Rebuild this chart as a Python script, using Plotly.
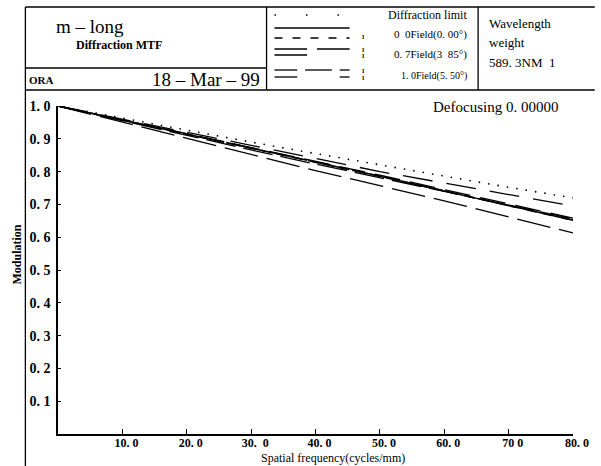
import plotly.graph_objects as go

# ---------------- data ----------------
freq = [0, 10, 20, 30, 40, 50, 60, 70, 80]
diffraction_limit = [1.0, 0.963, 0.926, 0.890, 0.855, 0.820, 0.785, 0.752, 0.720]
field00_T = [1.0, 0.957, 0.914, 0.872, 0.830, 0.786, 0.741, 0.697, 0.652]
field00_S = [1.0, 0.957, 0.914, 0.872, 0.830, 0.786, 0.741, 0.697, 0.652]
field07_T = [1.0, 0.955, 0.911, 0.866, 0.823, 0.781, 0.738, 0.697, 0.656]
field07_S = [1.0, 0.960, 0.920, 0.880, 0.840, 0.800, 0.765, 0.730, 0.695]
field10_T = [1.0, 0.951, 0.902, 0.853, 0.803, 0.757, 0.711, 0.662, 0.613]
field10_S = [1.0, 0.958, 0.916, 0.874, 0.832, 0.789, 0.745, 0.701, 0.658]

x_tickvals = [10, 20, 30, 40, 50, 60, 70, 80]
x_ticktext = ["10. 0", "20. 0", "30.  0", "40. 0", "50. 0", "60. 0", "70 0", "80. 0"]
y_tickvals = [0.1, 0.2, 0.3, 0.4, 0.5, 0.6, 0.7, 0.8, 0.9, 1.0]
y_ticktext = ["0. 1", "0. 2", "0. 3", "0. 4", "0. 5", "0. 6", "0. 7", "0. 8", "0. 9", "1. 0"]

# ---------------- layout geometry (pixels) ----------------
W, H = 601, 466
L, R, T, B = 58, 579, 106, 434
SERIF = "Liberation Serif, Times New Roman, serif"


def px(x):
    return (x - L) / (R - L)


def py(y):
    return (B - y) / (B - T)


fig = go.Figure()

series = [
    ("Diffraction limit", diffraction_limit, "1.5px,8px", 1.6),
    ("0.0 Field T", field00_T, "40px,3px", 1.6),
    ("0.0 Field S", field00_S, "10px,6px", 1.6),
    ("0.7 Field T", field07_T, "30px,8px", 1.3),
    ("0.7 Field S", field07_S, "30px,14px", 1.3),
    ("1.0 Field T", field10_T, "34px,9px", 1.3),
    ("1.0 Field S", field10_S, "26px,10px", 1.3),
]
for name, vals, dash, w in series:
    fig.add_trace(go.Scatter(
        x=freq, y=vals, mode="lines", name=name, cliponaxis=False,
        line=dict(color="black", width=w, dash=dash), showlegend=False,
    ))

shapes = []


def line(x0, y0, x1, y1, dash="solid", width=1.3):
    shapes.append(dict(type="line", xref="paper", yref="paper",
                       x0=px(x0), y0=py(y0), x1=px(x1), y1=py(y1),
                       line=dict(color="black", width=width, dash=dash)))


# frame / header box
line(25, 7, 601, 7)
line(25, 90, 601, 90)
line(25, 7, 25, 466)
line(269, 7, 269, 90)
line(483, 7, 483, 90)
line(25, 68, 269, 68)

# legend samples
line(277, 15, 353, 15, dash="1.5px,30px")
line(277, 28, 353, 28)
line(277, 38, 353, 38, dash="8px,10px")
line(277, 49, 310, 49)
line(320, 49, 353, 49)
line(277, 55, 310, 55)
line(277, 70, 300, 70)
line(308, 70, 335, 70)
line(343, 70, 353, 70)
line(277, 77, 300, 77)
line(343, 77, 353, 77)

annotations = []


def ann(text, x, y, size, xanchor="left", bold=False, angle=0):
    annotations.append(dict(
        text=text, xref="paper", yref="paper", x=px(x), y=py(y),
        xanchor=xanchor, yanchor="middle", showarrow=False, textangle=angle,
        font=dict(family=SERIF, size=size, color="black",
                  weight="bold" if bold else "normal")))


ann("m – long", 54, 27, 19)
ann("Diffraction MTF", 74, 45, 12, bold=True)
ann("ORA", 27, 80, 11, bold=True)
ann("18 – Mar – 99", 264, 80, 19, xanchor="right")
ann("Diffraction limit", 474, 15, 12, xanchor="right")
ann("0  0Field(0. 00°)", 474, 34, 11, xanchor="right")
ann("0. 7Field(3  85°)", 474, 55, 11, xanchor="right")
ann("1. 0Field(5. 50°)", 474, 76, 10, xanchor="right")
for yy in (37, 50, 56, 71, 78):
    ann("I", 367, yy, 6, xanchor="center", bold=True)
ann("Wavelength", 492, 23, 13)
ann("weight", 492, 42, 13)
ann("589. 3NM  1", 492, 62, 13)
ann("Defocusing 0. 00000", 566, 107, 15, xanchor="right")
ann("Modulation", 17, 254, 12, xanchor="center", bold=True, angle=-90)
ann("Spatial frequency(cycles/mm)", 336, 458, 12, xanchor="center")

fig.update_layout(
    width=W, height=H,
    margin=dict(l=L, r=W - R, t=T, b=H - B, pad=0),
    paper_bgcolor="white", plot_bgcolor="white",
    shapes=shapes, annotations=annotations,
    xaxis=dict(range=[0, 80], showgrid=False, zeroline=False,
               showline=True, linecolor="black", linewidth=1.5,
               ticks="inside", ticklen=5, tickcolor="black", tickwidth=1.2,
               tickvals=x_tickvals, ticktext=x_ticktext,
               ticklabelshift=4, ticklabelstandoff=-3,
               tickfont=dict(family=SERIF, size=12, color="black", weight="bold")),
    yaxis=dict(range=[0, 1.0], showgrid=False, zeroline=False,
               showline=True, linecolor="black", linewidth=1.5,
               ticks="inside", ticklen=3, tickcolor="black", tickwidth=1,
               tickvals=y_tickvals, ticktext=y_ticktext,
               ticklabelstandoff=3,
               tickfont=dict(family=SERIF, size=14, color="black", weight="bold")),
)

fig.write_html("out.html", config={"displayModeBar": False},
               post_script="document.body.style.margin='0';")
